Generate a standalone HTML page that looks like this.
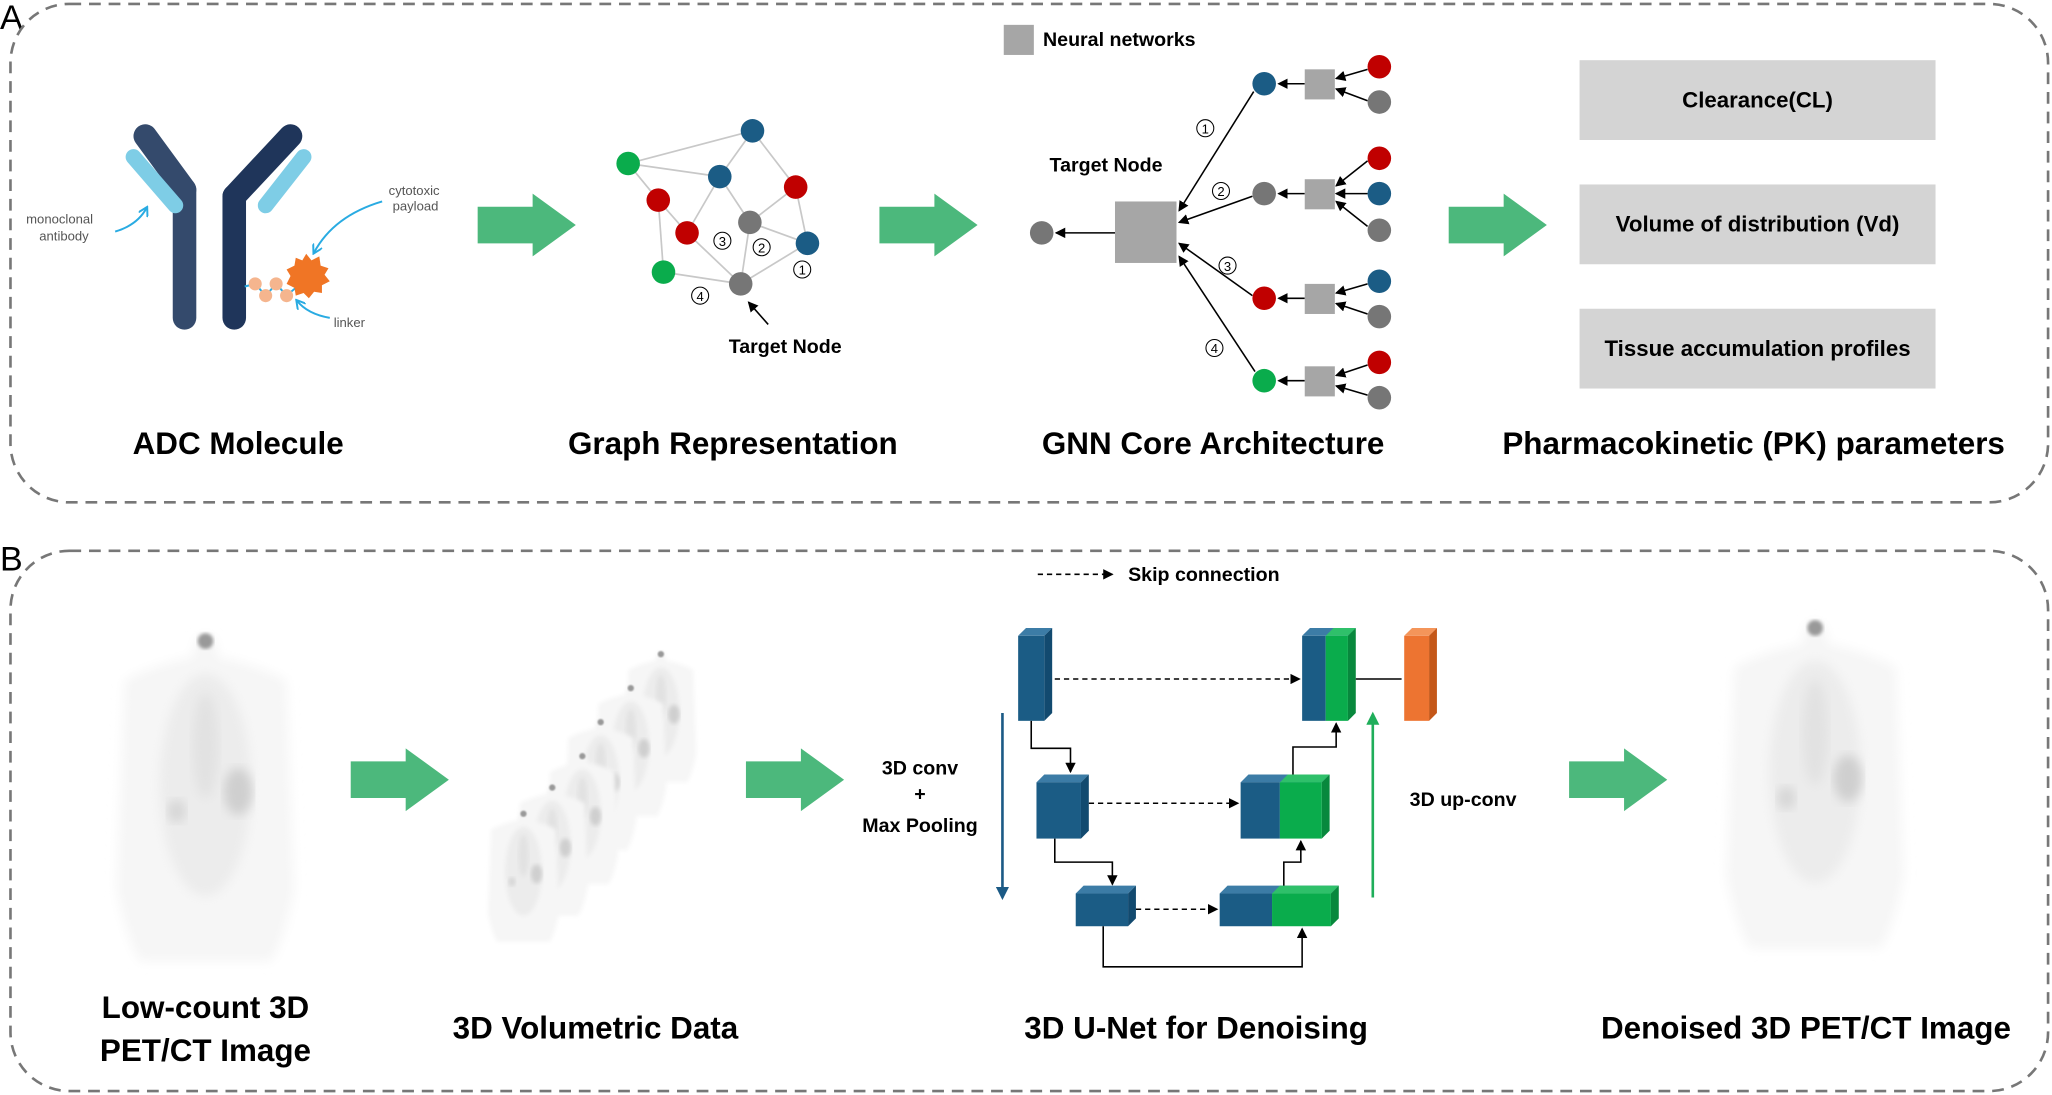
<!DOCTYPE html>
<html><head><meta charset="utf-8"><style>html,body{margin:0;padding:0;background:#fff;}svg{display:block}</style></head>
<body>
<svg width="2052" height="1095" viewBox="0 0 1568 837" preserveAspectRatio="none" xmlns="http://www.w3.org/2000/svg" font-family="Liberation Sans, sans-serif">
<defs>
<marker id="ah" markerWidth="8" markerHeight="8" refX="7" refY="4" orient="auto" markerUnits="userSpaceOnUse"><path d="M0,0 L8,4 L0,8 z" fill="#000"/></marker>
<marker id="ahb" markerWidth="10" markerHeight="10" refX="8" refY="5" orient="auto" markerUnits="userSpaceOnUse"><path d="M0,0 L10,5 L0,10 z" fill="#1b5a85"/></marker>
<marker id="ahg" markerWidth="10" markerHeight="10" refX="8" refY="5" orient="auto" markerUnits="userSpaceOnUse"><path d="M0,0 L10,5 L0,10 z" fill="#1fae5a"/></marker>
<marker id="ahc" markerWidth="8" markerHeight="8" refX="6" refY="4" orient="auto" markerUnits="userSpaceOnUse"><path d="M0,0 L7,4 L0,8" fill="none" stroke="#29abe2" stroke-width="1.5"/></marker>
<filter id="bl"><feGaussianBlur stdDeviation="4"/></filter>
<filter id="bl2"><feGaussianBlur stdDeviation="1.5"/></filter>
<g id="arrow"><polygon points="0,-14 42,-14 42,-24 75,0 42,24 42,14 0,14" fill="#4cb87c"/></g>
<g id="body">
 <path d="M-8,10 Q0,0 8,10 L10,22 Q40,28 62,40 L68,200 Q60,240 50,255 L-50,255 Q-60,240 -68,200 L-62,40 Q-40,28 -10,22 z" fill="#f6f6f6" filter="url(#bl)"/>
 <ellipse cx="0" cy="120" rx="35" ry="85" fill="#ececec" filter="url(#bl)"/>
 <ellipse cx="25" cy="125" rx="11" ry="18" fill="#cfcfcf" filter="url(#bl)"/>
 <ellipse cx="-22" cy="140" rx="7" ry="9" fill="#d6d6d6" filter="url(#bl)"/>
 <ellipse cx="0" cy="90" rx="10" ry="40" fill="#e2e2e2" filter="url(#bl)"/>
 <circle cx="0" cy="10" r="6" fill="#999" filter="url(#bl2)"/>
</g>
</defs>

<text x="0" y="22" font-size="26">A</text>
<rect x="8" y="3" width="1557" height="381" rx="45" fill="none" stroke="#777" stroke-width="2" stroke-dasharray="9,6"/>
<text x="0" y="436" font-size="26">B</text>
<rect x="8" y="421" width="1557" height="413" rx="45" fill="none" stroke="#777" stroke-width="2" stroke-dasharray="9,6"/>

<g stroke-linecap="round" fill="none">
<line x1="111" y1="104" x2="141" y2="145" stroke="#344a6c" stroke-width="18"/>
<line x1="141" y1="145" x2="141" y2="243" stroke="#344a6c" stroke-width="18"/>
<line x1="222" y1="104" x2="179" y2="150" stroke="#1f355a" stroke-width="18"/>
<line x1="179" y1="150" x2="179" y2="243" stroke="#1f355a" stroke-width="18"/>
<line x1="102" y1="120" x2="134" y2="157" stroke="#7ecde6" stroke-width="12"/>
<line x1="232" y1="120" x2="203" y2="157" stroke="#7ecde6" stroke-width="12"/>
</g>
<polyline points="187,219 195,217 203,226 211,217 219,226 226,220" fill="none" stroke="#29abe2" stroke-width="1.5"/>
<circle cx="195" cy="217" r="5" fill="#f5b58e"/><circle cx="203" cy="226" r="5" fill="#f5b58e"/><circle cx="211" cy="217" r="5" fill="#f5b58e"/><circle cx="219" cy="226" r="5" fill="#f5b58e"/>
<polygon points="234,194 238,199 244,196 245,203 251,205 248,210 252,215 246,218 246,224 240,223 236,228 232,224 226,226 225,220 219,217 222,211 219,206 225,203 226,197 231,199" fill="#f07525"/>
<text x="20" y="171" font-size="10" fill="#555">monoclonal</text>
<text x="30" y="184" font-size="10" fill="#555">antibody</text>
<text x="297" y="149" font-size="10" fill="#555">cytotoxic</text>
<text x="300" y="161" font-size="10" fill="#555">payload</text>
<text x="255" y="250" font-size="10" fill="#555">linker</text>
<path d="M88,177 Q105,172 112,159" fill="none" stroke="#29abe2" stroke-width="1.5" marker-end="url(#ahc)"/>
<path d="M292,154 Q255,165 240,193" fill="none" stroke="#29abe2" stroke-width="1.5" marker-end="url(#ahc)"/>
<path d="M252,243 Q235,240 227,230" fill="none" stroke="#29abe2" stroke-width="1.5" marker-end="url(#ahc)"/>

<use href="#arrow" x="365" y="172"/>
<use href="#arrow" x="672" y="172"/>
<use href="#arrow" x="1107" y="172"/>
<use href="#arrow" x="268" y="596"/>
<use href="#arrow" x="570" y="596"/>
<use href="#arrow" x="1199" y="596"/>

<g stroke="#c8c8c8" stroke-width="1.3">
<line x1="480" y1="125" x2="575" y2="100"/><line x1="480" y1="125" x2="550" y2="135"/><line x1="480" y1="125" x2="503" y2="153"/>
<line x1="575" y1="100" x2="550" y2="135"/><line x1="575" y1="100" x2="608" y2="143"/><line x1="550" y1="135" x2="573" y2="170"/>
<line x1="550" y1="135" x2="525" y2="178"/><line x1="503" y1="153" x2="525" y2="178"/><line x1="503" y1="153" x2="507" y2="208"/>
<line x1="573" y1="170" x2="608" y2="143"/><line x1="573" y1="170" x2="566" y2="217"/><line x1="525" y1="178" x2="566" y2="217"/>
<line x1="608" y1="143" x2="617" y2="186"/><line x1="617" y1="186" x2="566" y2="217"/><line x1="507" y1="208" x2="566" y2="217"/>
<line x1="573" y1="170" x2="617" y2="186"/>
</g>
<circle cx="480" cy="125" r="9" fill="#0aac4c"/><circle cx="575" cy="100" r="9" fill="#1b5c85"/><circle cx="550" cy="135" r="9" fill="#1b5c85"/>
<circle cx="503" cy="153" r="9" fill="#c00000"/><circle cx="573" cy="170" r="9" fill="#767676"/><circle cx="608" cy="143" r="9" fill="#c00000"/>
<circle cx="525" cy="178" r="9" fill="#c00000"/><circle cx="617" cy="186" r="9" fill="#1b5c85"/><circle cx="507" cy="208" r="9" fill="#0aac4c"/>
<circle cx="566" cy="217" r="9" fill="#767676"/>
<g fill="none" stroke="#000" stroke-width="0.8">
<circle cx="552" cy="184" r="6.5"/><circle cx="582" cy="189" r="6.5"/><circle cx="613" cy="206" r="6.5"/><circle cx="535" cy="226" r="6.5"/>
<circle cx="921" cy="98" r="6.5"/><circle cx="933" cy="146" r="6.5"/><circle cx="938" cy="203" r="6.5"/><circle cx="928" cy="266" r="6.5"/>
</g>
<g font-size="10" text-anchor="middle" fill="#000">
<text x="552" y="188">3</text><text x="582" y="193">2</text><text x="613" y="210">1</text><text x="535" y="230">4</text>
<text x="921" y="102">1</text><text x="933" y="150">2</text><text x="938" y="207">3</text><text x="928" y="270">4</text>
</g>
<line x1="587" y1="248" x2="572" y2="231" stroke="#000" stroke-width="1.2" marker-end="url(#ah)"/>
<text x="600" y="270" font-size="15" font-weight="bold" text-anchor="middle">Target Node</text>

<rect x="767" y="19" width="23" height="23" fill="#a6a6a6"/>
<text x="797" y="35" font-size="15" font-weight="bold">Neural networks</text>
<text x="802" y="131" font-size="15" font-weight="bold">Target Node</text>
<rect x="852" y="154" width="47" height="47" fill="#a6a6a6"/>
<circle cx="796" cy="178" r="9" fill="#767676"/>
<g stroke="#000" stroke-width="1.2" marker-end="url(#ah)">
<line x1="852" y1="178" x2="807" y2="178"/>
<line x1="958" y1="70" x2="901" y2="161"/>
<line x1="957" y1="150" x2="901" y2="170"/>
<line x1="957" y1="226" x2="901" y2="186"/>
<line x1="959" y1="284" x2="901" y2="196"/>
<line x1="997" y1="64" x2="977" y2="64"/>
<line x1="997" y1="148" x2="977" y2="148"/>
<line x1="997" y1="228" x2="977" y2="228"/>
<line x1="997" y1="291" x2="977" y2="291"/>
<line x1="1045" y1="53" x2="1021" y2="60"/><line x1="1045" y1="77" x2="1021" y2="68"/>
<line x1="1045" y1="123" x2="1021" y2="142"/><line x1="1045" y1="148" x2="1021" y2="148"/><line x1="1045" y1="173" x2="1021" y2="154"/>
<line x1="1045" y1="217" x2="1021" y2="224"/><line x1="1045" y1="240" x2="1021" y2="232"/>
<line x1="1045" y1="279" x2="1021" y2="287"/><line x1="1045" y1="302" x2="1021" y2="295"/>
</g>
<circle cx="966" cy="64" r="9" fill="#1b5c85"/><circle cx="966" cy="148" r="9" fill="#767676"/>
<circle cx="966" cy="228" r="9" fill="#c00000"/><circle cx="966" cy="291" r="9" fill="#0aac4c"/>
<rect x="997" y="53" width="23" height="23" fill="#a6a6a6"/><rect x="997" y="137" width="23" height="23" fill="#a6a6a6"/>
<rect x="997" y="217" width="23" height="23" fill="#a6a6a6"/><rect x="997" y="280" width="23" height="23" fill="#a6a6a6"/>
<circle cx="1054" cy="51" r="9" fill="#c00000"/><circle cx="1054" cy="78" r="9" fill="#767676"/>
<circle cx="1054" cy="121" r="9" fill="#c00000"/><circle cx="1054" cy="148" r="9" fill="#1b5c85"/><circle cx="1054" cy="176" r="9" fill="#767676"/>
<circle cx="1054" cy="215" r="9" fill="#1b5c85"/><circle cx="1054" cy="242" r="9" fill="#767676"/>
<circle cx="1054" cy="277" r="9" fill="#c00000"/><circle cx="1054" cy="304" r="9" fill="#767676"/>

<rect x="1207" y="46" width="272" height="61" fill="#d4d4d4"/>
<rect x="1207" y="141" width="272" height="61" fill="#d4d4d4"/>
<rect x="1207" y="236" width="272" height="61" fill="#d4d4d4"/>
<g font-size="17" font-weight="bold" text-anchor="middle">
<text x="1343" y="82">Clearance(CL)</text>
<text x="1343" y="177">Volume of distribution (Vd)</text>
<text x="1343" y="272">Tissue accumulation profiles</text>
</g>

<g font-size="24" font-weight="bold" text-anchor="middle">
<text x="182" y="347">ADC Molecule</text>
<text x="560" y="347">Graph Representation</text>
<text x="927" y="347">GNN Core Architecture</text>
<text x="1340" y="347">Pharmacokinetic (PK) parameters</text>
<text x="157" y="778">Low-count 3D</text>
<text x="157" y="811">PET/CT Image</text>
<text x="455" y="794">3D Volumetric Data</text>
<text x="914" y="794">3D U-Net for Denoising</text>
<text x="1380" y="794">Denoised 3D PET/CT Image</text>
</g>

<use href="#body" x="157" y="480"/>
<use href="#body" x="1387" y="470"/>
<g transform="translate(505,496) scale(0.4)"><use href="#body"/></g>
<g transform="translate(482,522) scale(0.4)"><use href="#body"/></g>
<g transform="translate(459,548) scale(0.4)"><use href="#body"/></g>
<g transform="translate(445,574) scale(0.4)"><use href="#body"/></g>
<g transform="translate(422,598) scale(0.4)"><use href="#body"/></g>
<g transform="translate(400,618) scale(0.4)"><use href="#body"/></g>

<line x1="793" y1="439" x2="850" y2="439" stroke="#000" stroke-width="1.2" stroke-dasharray="4,3" marker-end="url(#ah)"/>
<text x="862" y="444" font-size="15" font-weight="bold">Skip connection</text>

<g>
<polygon points="778,486 784,480 804,480 798,486" fill="#3c7ca6"/><polygon points="798,486 804,480 804,545 798,551" fill="#124a6f"/>
<rect x="778" y="486" width="20" height="65" fill="#1b5c85"/>
<polygon points="995,486 1001,480 1036,480 1030,486" fill="#3c7ca6"/>
<polygon points="1013,486 1019,480 1036,480 1030,486" fill="#2fc06a"/>
<polygon points="1030,486 1036,480 1036,545 1030,551" fill="#08883d"/>
<rect x="995" y="486" width="18" height="65" fill="#1b5c85"/><rect x="1013" y="486" width="17" height="65" fill="#0aac4c"/>
<polygon points="1073,486 1079,480 1098,480 1092,486" fill="#f4955a"/><polygon points="1092,486 1098,480 1098,545 1092,551" fill="#c45718"/>
<rect x="1073" y="486" width="19" height="65" fill="#ed7431"/>
<polygon points="792,598 798,592 832,592 826,598" fill="#3c7ca6"/><polygon points="826,598 832,592 832,635 826,641" fill="#124a6f"/>
<rect x="792" y="598" width="34" height="43" fill="#1b5c85"/>
<polygon points="948,598 954,592 1016,592 1010,598" fill="#3c7ca6"/>
<polygon points="978,598 984,592 1016,592 1010,598" fill="#2fc06a"/>
<polygon points="1010,598 1016,592 1016,635 1010,641" fill="#08883d"/>
<rect x="948" y="598" width="30" height="43" fill="#1b5c85"/><rect x="978" y="598" width="32" height="43" fill="#0aac4c"/>
<polygon points="822,683 828,677 868,677 862,683" fill="#3c7ca6"/><polygon points="862,683 868,677 868,702 862,708" fill="#124a6f"/>
<rect x="822" y="683" width="40" height="25" fill="#1b5c85"/>
<polygon points="932,683 938,677 1023,677 1017,683" fill="#3c7ca6"/>
<polygon points="972,683 978,677 1023,677 1017,683" fill="#2fc06a"/>
<polygon points="1017,683 1023,677 1023,702 1017,708" fill="#08883d"/>
<rect x="932" y="683" width="40" height="25" fill="#1b5c85"/><rect x="972" y="683" width="45" height="25" fill="#0aac4c"/>
</g>
<g stroke="#000" stroke-width="1.2" fill="none">
<line x1="806" y1="519" x2="993" y2="519" stroke-dasharray="4,3" marker-end="url(#ah)"/>
<line x1="832" y1="614" x2="946" y2="614" stroke-dasharray="4,3" marker-end="url(#ah)"/>
<line x1="868" y1="695" x2="930" y2="695" stroke-dasharray="4,3" marker-end="url(#ah)"/>
<line x1="1036" y1="519" x2="1071" y2="519"/>
<polyline points="788,551 788,572 818,572 818,590" marker-end="url(#ah)"/>
<polyline points="806,641 806,659 850,659 850,676" marker-end="url(#ah)"/>
<polyline points="843,708 843,739 995,739 995,710" marker-end="url(#ah)"/>
<polyline points="981,677 981,659 994,659 994,643" marker-end="url(#ah)"/>
<polyline points="988,592 988,571 1021,571 1021,553" marker-end="url(#ah)"/>
</g>
<line x1="766" y1="545" x2="766" y2="686" stroke="#1b5a85" stroke-width="2" marker-end="url(#ahb)"/>
<line x1="1049" y1="686" x2="1049" y2="546" stroke="#1fae5a" stroke-width="2" marker-end="url(#ahg)"/>
<g font-size="15" font-weight="bold" text-anchor="middle">
<text x="703" y="592">3D conv</text><text x="703" y="612">+</text><text x="703" y="636">Max Pooling</text>
<text x="1118" y="616">3D up-conv</text>
</g>
</svg>
</body></html>
